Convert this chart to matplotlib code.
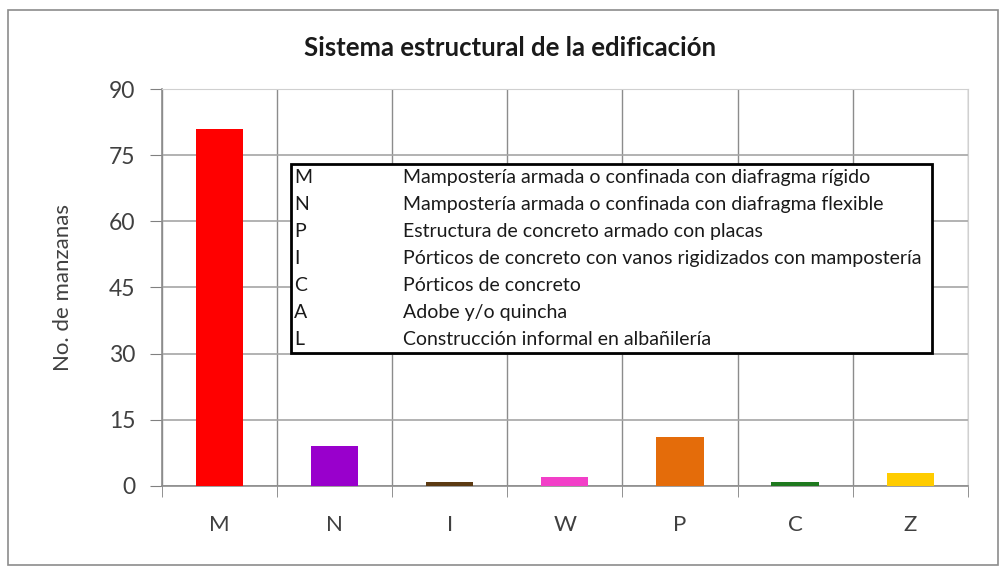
import matplotlib.pyplot as plt
from matplotlib.patches import Rectangle

# ---------------- Data ----------------
categories = ['M', 'N', 'I', 'W', 'P', 'C', 'Z']
counts = [81, 9, 1, 2, 11, 1, 3]
bar_colors = ['#FF0000', '#9900CC', '#5C3A12', '#F23FC8', '#E46C0A', '#1F7A1F', '#FFCC00']

legend_codes = ['M', 'N', 'P', 'I', 'C', 'A', 'L']
legend_desc = [
    'Mampostería armada o confinada con diafragma rígido',
    'Mampostería armada o confinada con diafragma flexible',
    'Estructura de concreto armado con placas',
    'Pórticos de concreto con vanos rigidizados con mampostería',
    'Pórticos de concreto',
    'Adobe y/o quincha',
    'Construcción informal en albañilería',
]
yticks = [0, 15, 30, 45, 60, 75, 90]

# ---------------- Plotting ----------------
plt.rcParams['font.family'] = ['Lato', 'DejaVu Sans']
fig = plt.figure(figsize=(10.04, 5.69), dpi=100)
ax = fig.add_axes([0.161, 0.146, 0.803, 0.6975])

# outer chart border
fig.patches.append(Rectangle((0.008, 0.007), 0.986, 0.976, transform=fig.transFigure,
                             fill=False, edgecolor='#8c8c8c', linewidth=1.2))

x = range(len(categories))
ax.bar(x, counts, width=0.41, color=bar_colors, zorder=3)

ax.set_xlim(-0.5, len(categories) - 0.5)
ax.set_ylim(0, 90)
ax.set_yticks(yticks)
ax.set_xticks(list(x))
ax.set_xticklabels(categories)
ax.set_xticks([i - 0.5 for i in range(len(categories) + 1)], minor=True)

ax.tick_params(axis='x', which='major', length=0, pad=21, labelsize=16, labelcolor='#404040')
ax.tick_params(axis='x', which='minor', length=8, color='#808080', direction='out')
ax.tick_params(axis='y', length=9, color='#808080', pad=10, labelsize=16.5, labelcolor='#404040')

ax.grid(axis='y', color='#a6a6a6', linewidth=1.2, zorder=0)
ax.grid(axis='x', which='minor', color='#8c8c8c', linewidth=1.0, zorder=0)
for side in ['top', 'right']:
    ax.spines[side].set_color('#d0d0d0')
for side in ['left', 'bottom']:
    ax.spines[side].set_color('#8c8c8c')
    ax.spines[side].set_linewidth(1.2)

ax.set_ylabel('No. de manzanas', fontsize=16, color='#404040', labelpad=26)
fig.text(0.508, 0.915, 'Sistema estructural de la edificación', ha='center', va='center',
         fontsize=18.5, fontweight='bold', color='#1a1a1a')

# legend box with codes
box_left, box_right, box_bottom, box_top = 0.160, 0.956, 0.335, 0.812
ax.add_patch(Rectangle((box_left, box_bottom), box_right - box_left, box_top - box_bottom,
                       transform=ax.transAxes, facecolor='white', edgecolor='black',
                       linewidth=2, zorder=5))
row_h = (box_top - box_bottom) / len(legend_codes)
for i, (code, desc) in enumerate(zip(legend_codes, legend_desc)):
    yy = box_top - row_h * (i + 0.5)
    ax.text(box_left + 0.004, yy, code, transform=ax.transAxes, ha='left', va='center',
            fontsize=14, color='#1a1a1a', zorder=6)
    ax.text(0.299, yy, desc, transform=ax.transAxes, ha='left', va='center',
            fontsize=14, color='#1a1a1a', zorder=6)

plt.savefig('out.png', dpi=100)
